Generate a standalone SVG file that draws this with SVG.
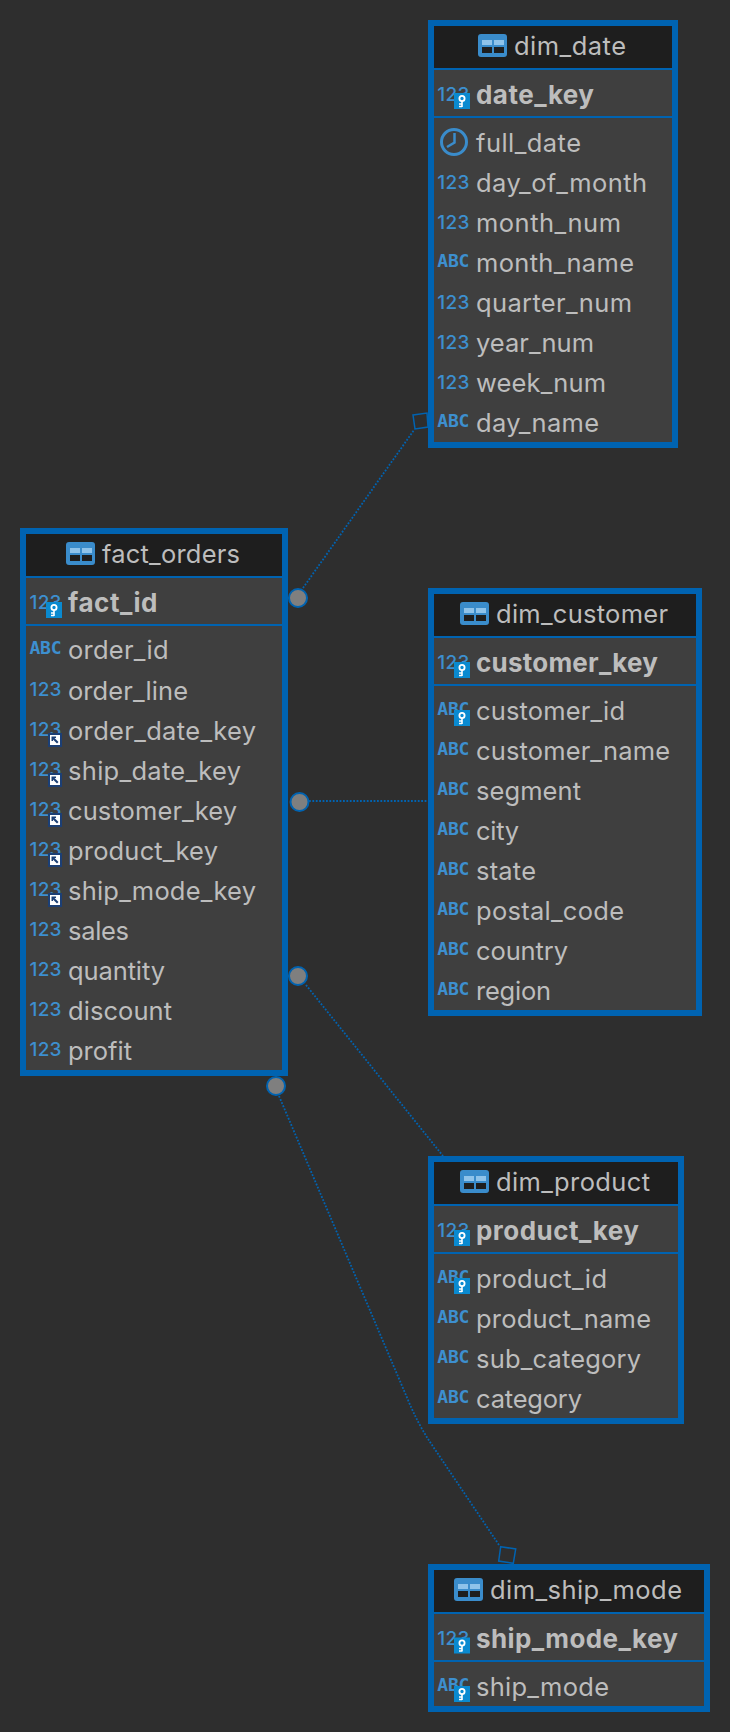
<svg xmlns="http://www.w3.org/2000/svg" width="730" height="1732" viewBox="0 0 730 1732">
<style>
.box{fill:#3f3f3f;stroke:#0063b1;stroke-width:6}
.hd{fill:#1e1e1e}
.ln{fill:#0063b1}
.t{font-family:Inter,"Liberation Sans",sans-serif;font-size:25.5px;fill:#bdbdbd}
.b{font-weight:700;font-size:26px}
.n{font-family:Inter,"Liberation Sans",sans-serif;font-size:19px;font-weight:500;fill:#3d8fcf}
.a{font-family:"DejaVu Sans Mono",monospace;font-size:18px;font-weight:700;fill:#3d8fcf}
.c{fill:none;stroke:#0063b1;stroke-width:1.8;stroke-dasharray:1.8 1.6}
.dot{fill:#7f7f7f;stroke:#0063b1;stroke-width:2}
.sq{fill:none;stroke:#0063b1;stroke-width:1.5}
</style>
<defs>
<g id="tbl"><rect x="0" y="0" width="29" height="23" rx="3" fill="#3a8ccb"/><rect x="4" y="6" width="10" height="5" fill="#8fc3ea"/><rect x="16" y="6" width="10" height="5" fill="#8fc3ea"/><rect x="4" y="13" width="10" height="6" fill="#1e1e1e"/><rect x="16" y="13" width="10" height="6" fill="#1e1e1e"/></g>
<g id="key"><rect x="0" y="0" width="16" height="16" fill="#0a8ad0"/><circle cx="8" cy="5.500" r="2.600" fill="none" stroke="#fff" stroke-width="1.800"/><path d="M8 8v6M8 11h-3M8 13.500h-3" stroke="#fff" stroke-width="1.600" fill="none"/></g>
<g id="fk"><rect x="0" y="0" width="14" height="14" fill="#1c3f75"/><rect x="2" y="2" width="10" height="10" fill="#fff"/><path d="M3.500 3.500h4.500v1.500h-1.500l4 4-1.500 1.500-4-4v1.500h-1.500z" fill="#1c3f75"/></g>
<g id="clk"><circle cx="14" cy="0" r="12.500" fill="none" stroke="#3a8ccb" stroke-width="3"/><path d="M14.500 -9v9.500l-7.500 4.500" fill="none" stroke="#3a8ccb" stroke-width="2.500"/></g>
</defs>
<rect width="730" height="1732" fill="#2e2e2e"/>
<g id="connectors">
<path class="c" d="M303 588L414 430"/>
<path class="c" d="M309 801L428 801"/>
<path class="c" d="M306 985L443 1156"/>
<path class="c" d="M279 1096L408 1400Q418 1424 430 1442L499 1545"/>
<path class="sq" d="M413 415L427 413L428 427L415 429Z"/>
<path class="sq" d="M500.700 1546.700L515.700 1549L513.300 1563.300L498.700 1561Z"/>
<circle class="dot" cx="298" cy="598" r="9"/>
<circle class="dot" cx="299.500" cy="802" r="9"/>
<circle class="dot" cx="298" cy="976" r="9"/>
<circle class="dot" cx="276" cy="1086" r="9"/>
</g>
<g id="fact_orders">
<rect class="box" x="23" y="531" width="262" height="542"/><rect class="hd" x="26" y="534" width="256" height="42"/><rect class="ln" x="26" y="576" width="256" height="2"/><rect class="ln" x="26" y="624" width="256" height="2"/>
<use href="#tbl" x="66" y="542"/><text class="t" x="102" y="563" textLength="138">fact_orders</text>
<text class="n" x="29.500" y="609" textLength="32">123</text><use href="#key" x="46" y="602"/><text class="t b" x="68" y="612" textLength="89.500">fact_id</text>
<text class="a" x="29.500" y="654" textLength="32">ABC</text><text class="t" x="68" y="659" textLength="100.500">order_id</text>
<text class="n" x="29.500" y="696" textLength="32">123</text><text class="t" x="68" y="700" textLength="120">order_line</text>
<text class="n" x="29.500" y="736" textLength="32">123</text><use href="#fk" x="48" y="733"/><text class="t" x="68" y="740" textLength="188">order_date_key</text>
<text class="n" x="29.500" y="776" textLength="32">123</text><use href="#fk" x="48" y="773"/><text class="t" x="68" y="780" textLength="173">ship_date_key</text>
<text class="n" x="29.500" y="816" textLength="32">123</text><use href="#fk" x="48" y="813"/><text class="t" x="68" y="820" textLength="169">customer_key</text>
<text class="n" x="29.500" y="856" textLength="32">123</text><use href="#fk" x="48" y="853"/><text class="t" x="68" y="860" textLength="150">product_key</text>
<text class="n" x="29.500" y="896" textLength="32">123</text><use href="#fk" x="48" y="893"/><text class="t" x="68" y="900" textLength="188">ship_mode_key</text>
<text class="n" x="29.500" y="936" textLength="32">123</text><text class="t" x="68" y="940" textLength="61">sales</text>
<text class="n" x="29.500" y="976" textLength="32">123</text><text class="t" x="68" y="980" textLength="97">quantity</text>
<text class="n" x="29.500" y="1016" textLength="32">123</text><text class="t" x="68" y="1020" textLength="104">discount</text>
<text class="n" x="29.500" y="1056" textLength="32">123</text><text class="t" x="68" y="1060" textLength="64">profit</text>
</g>
<g id="dim_date">
<rect class="box" x="431" y="23" width="244" height="422"/><rect class="hd" x="434" y="26" width="238" height="42"/><rect class="ln" x="434" y="68" width="238" height="2"/><rect class="ln" x="434" y="116" width="238" height="2"/>
<use href="#tbl" x="478" y="34"/><text class="t" x="514" y="55" textLength="112">dim_date</text>
<text class="n" x="437.300" y="101" textLength="32">123</text><use href="#key" x="454" y="93"/><text class="t b" x="476" y="104" textLength="118">date_key</text>
<use href="#clk" x="440" y="142"/><text class="t" x="476" y="152" textLength="105">full_date</text>
<text class="n" x="437.300" y="188.500" textLength="32">123</text><text class="t" x="476" y="192" textLength="171">day_of_month</text>
<text class="n" x="437.300" y="228.500" textLength="32">123</text><text class="t" x="476" y="232" textLength="145">month_num</text>
<text class="a" x="437.300" y="266.500" textLength="32">ABC</text><text class="t" x="476" y="272" textLength="158">month_name</text>
<text class="n" x="437.300" y="308.500" textLength="32">123</text><text class="t" x="476" y="312" textLength="156">quarter_num</text>
<text class="n" x="437.300" y="348.500" textLength="32">123</text><text class="t" x="476" y="352" textLength="118">year_num</text>
<text class="n" x="437.300" y="388.500" textLength="32">123</text><text class="t" x="476" y="392" textLength="130">week_num</text>
<text class="a" x="437.300" y="426.500" textLength="32">ABC</text><text class="t" x="476" y="432" textLength="123">day_name</text>
</g>
<g id="dim_customer">
<rect class="box" x="431" y="591" width="268" height="422"/><rect class="hd" x="434" y="594" width="262" height="42"/><rect class="ln" x="434" y="636" width="262" height="2"/><rect class="ln" x="434" y="684" width="262" height="2"/>
<use href="#tbl" x="460" y="602"/><text class="t" x="496" y="623" textLength="172">dim_customer</text>
<text class="n" x="437.300" y="669" textLength="32">123</text><use href="#key" x="454" y="662"/><text class="t b" x="476" y="672" textLength="182">customer_key</text>
<text class="a" x="437.300" y="714.500" textLength="32">ABC</text><use href="#key" x="454" y="710"/><text class="t" x="476" y="720" textLength="149">customer_id</text>
<text class="a" x="437.300" y="755" textLength="32">ABC</text><text class="t" x="476" y="760" textLength="194">customer_name</text>
<text class="a" x="437.300" y="795" textLength="32">ABC</text><text class="t" x="476" y="800" textLength="105">segment</text>
<text class="a" x="437.300" y="835" textLength="32">ABC</text><text class="t" x="476" y="840" textLength="43">city</text>
<text class="a" x="437.300" y="875" textLength="32">ABC</text><text class="t" x="476" y="880" textLength="60">state</text>
<text class="a" x="437.300" y="915" textLength="32">ABC</text><text class="t" x="476" y="920" textLength="148">postal_code</text>
<text class="a" x="437.300" y="955" textLength="32">ABC</text><text class="t" x="476" y="960" textLength="92">country</text>
<text class="a" x="437.300" y="995" textLength="32">ABC</text><text class="t" x="476" y="1000" textLength="75">region</text>
</g>
<g id="dim_product">
<rect class="box" x="431" y="1159" width="250" height="262"/><rect class="hd" x="434" y="1162" width="244" height="42"/><rect class="ln" x="434" y="1204" width="244" height="2"/><rect class="ln" x="434" y="1252" width="244" height="2"/>
<use href="#tbl" x="460" y="1170"/><text class="t" x="496" y="1191" textLength="154">dim_product</text>
<text class="n" x="437.300" y="1237" textLength="32">123</text><use href="#key" x="454" y="1230"/><text class="t b" x="476" y="1240" textLength="163">product_key</text>
<text class="a" x="437.300" y="1282.500" textLength="32">ABC</text><use href="#key" x="454" y="1278"/><text class="t" x="476" y="1288" textLength="131">product_id</text>
<text class="a" x="437.300" y="1323" textLength="32">ABC</text><text class="t" x="476" y="1328" textLength="175">product_name</text>
<text class="a" x="437.300" y="1363" textLength="32">ABC</text><text class="t" x="476" y="1368" textLength="165">sub_category</text>
<text class="a" x="437.300" y="1403" textLength="32">ABC</text><text class="t" x="476" y="1408" textLength="106">category</text>
</g>
<g id="dim_ship_mode">
<rect class="box" x="431" y="1567" width="276" height="142"/><rect class="hd" x="434" y="1570" width="270" height="42"/><rect class="ln" x="434" y="1612" width="270" height="2"/><rect class="ln" x="434" y="1660" width="270" height="2"/>
<use href="#tbl" x="454" y="1578"/><text class="t" x="490" y="1599" textLength="192">dim_ship_mode</text>
<text class="n" x="437.300" y="1644.500" textLength="32">123</text><use href="#key" x="454" y="1637.500"/><text class="t b" x="476" y="1648" textLength="202">ship_mode_key</text>
<text class="a" x="437.300" y="1690.500" textLength="32">ABC</text><use href="#key" x="454" y="1686"/><text class="t" x="476" y="1696" textLength="133">ship_mode</text>
</g>
</svg>
